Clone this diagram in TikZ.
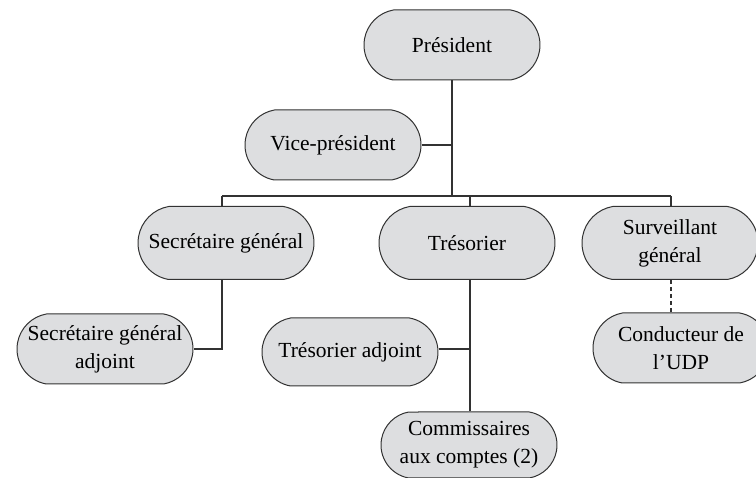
\documentclass[tikz,border=0pt]{standalone}
\usepackage{fontspec}
\setmainfont{Liberation Serif}
\usetikzlibrary{shapes.misc}
\definecolor{boxgray}{RGB}{221,222,224}
\definecolor{linegray}{RGB}{50,50,50}
\begin{document}
\begin{tikzpicture}[x=1pt,y=-1pt,
  box/.style={draw=linegray, line width=1pt, fill=boxgray, rounded rectangle,
    rounded rectangle arc length=160,
    minimum width=176pt, minimum height=70pt, inner sep=0pt, align=center,
    font=\fontsize{21.5}{28}\selectfont},
  link/.style={draw=linegray, line width=1.1pt}]
\useasboundingbox (0,0) rectangle (756,478);
\node[box] (pres) at (452,45) {Président};
\node[box] (vp) at (333,145) {Vice-président};
\node[box, minimum height=73pt] (sg) at (226,243) {Secrétaire général};
\node[box, minimum height=73pt] (tres) at (467,243) {Trésorier};
\node[box, minimum height=73pt] (surv) at (670,243) {Surveillant\\général};
\node[box] (sga) at (105,349) {Secrétaire général\\adjoint};
\node[box, minimum height=68pt] (tresa) at (350,352) {Trésorier adjoint};
\node[box, minimum height=66pt] (comm) at (469,445) {Commissaires\\aux comptes (2)};
\node[box] (cond) at (681,348) {Conducteur de\\l’UDP};
\coordinate (busL) at (222,196);
\coordinate (busR) at (671,196);
\coordinate (busT) at (470,196);
\coordinate (pbus) at (452,196);
\coordinate (sgturn) at (222,349);
\coordinate (tj) at (470,349);
\draw[link] (pres.south) -- (pbus);
\draw[link] (vp.east) -- (vp.east -| pbus);
\draw[link] (busL) -- (busR);
\draw[link] (busL) -- (busL |- sg.north);
\draw[link] (busT) -- (busT |- tres.north);
\draw[link] (busR) -- (busR |- surv.north);
\draw[link] (sgturn |- sg.south) -- (sgturn) -- (sga.east |- sgturn);
\draw[link] (tj |- tres.south) -- (tj |- comm.north);
\draw[link] (tresa.east |- tj) -- (tj);
\draw[link, dashed, dash pattern=on 4pt off 3pt] (busR |- surv.south) -- (busR |- cond.north);
\end{tikzpicture}
\end{document}
